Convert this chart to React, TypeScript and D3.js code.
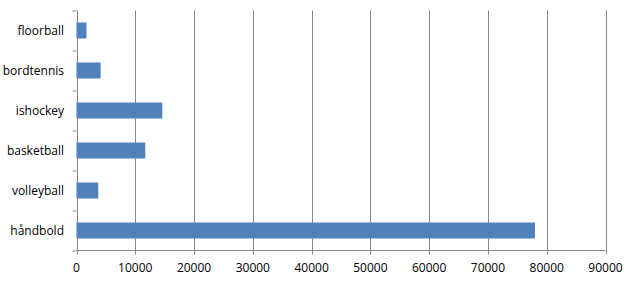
import React from "react";
import * as d3 from "d3";

const categories = ["floorball", "bordtennis", "ishockey", "basketball", "volleyball", "håndbold"];
const values = [1700, 4100, 14600, 11700, 3700, 78000];
const xTicks = [0, 10000, 20000, 30000, 40000, 50000, 60000, 70000, 80000, 90000];

export default function App() {
  const width = 632;
  const height = 283;
  const left = 76.5;
  const right = 605.5;
  const top = 10.5;
  const bottom = 250.5;
  const x = d3.scaleLinear().domain([0, 90000]).range([left, right]);
  const y = d3.scaleBand<string>().domain(categories).range([top, bottom]).paddingInner(0.6).paddingOuter(0.3);
  const band = (bottom - top) / categories.length;
  const grid = "#868686";
  const font = "Open Sans, Noto Sans, sans-serif";
  return (
    <svg width={width} height={height} style={{ position: "absolute", left: 0, top: 0, background: "#fff" }}>
      {xTicks.map((t) => (
        <line key={"g" + t} x1={Math.round(x(t)) + 0.5} x2={Math.round(x(t)) + 0.5} y1={top} y2={bottom + 4} stroke={grid} strokeWidth={1} />
      ))}
      {categories.map((c, i) => (
        <rect key={c} x={x(0)} y={y(c)} width={x(values[i]) - x(0)} height={y.bandwidth()} fill="#4F81BD" />
      ))}
      <line x1={left} x2={right} y1={bottom} y2={bottom} stroke={grid} />
      {d3.range(categories.length + 1).map((i) => (
        <line key={"t" + i} x1={left - 4} x2={left} y1={Math.round(top + i * band) + 0.5 - 0.5} y2={Math.round(top + i * band) + 0.5 - 0.5} stroke={grid} />
      ))}
      {categories.map((c) => (
        <text key={"l" + c} x={64} y={(y(c) as number) + y.bandwidth() / 2} dy="0.35em" textAnchor="end" fontFamily={font} fontSize={12} fill="#000">
          {c}
        </text>
      ))}
      {xTicks.map((t) => (
        <text key={"x" + t} x={x(t)} y={268} dy="0.35em" textAnchor="middle" fontFamily={font} fontSize={12} fill="#000">
          {t}
        </text>
      ))}
    </svg>
  );
}
